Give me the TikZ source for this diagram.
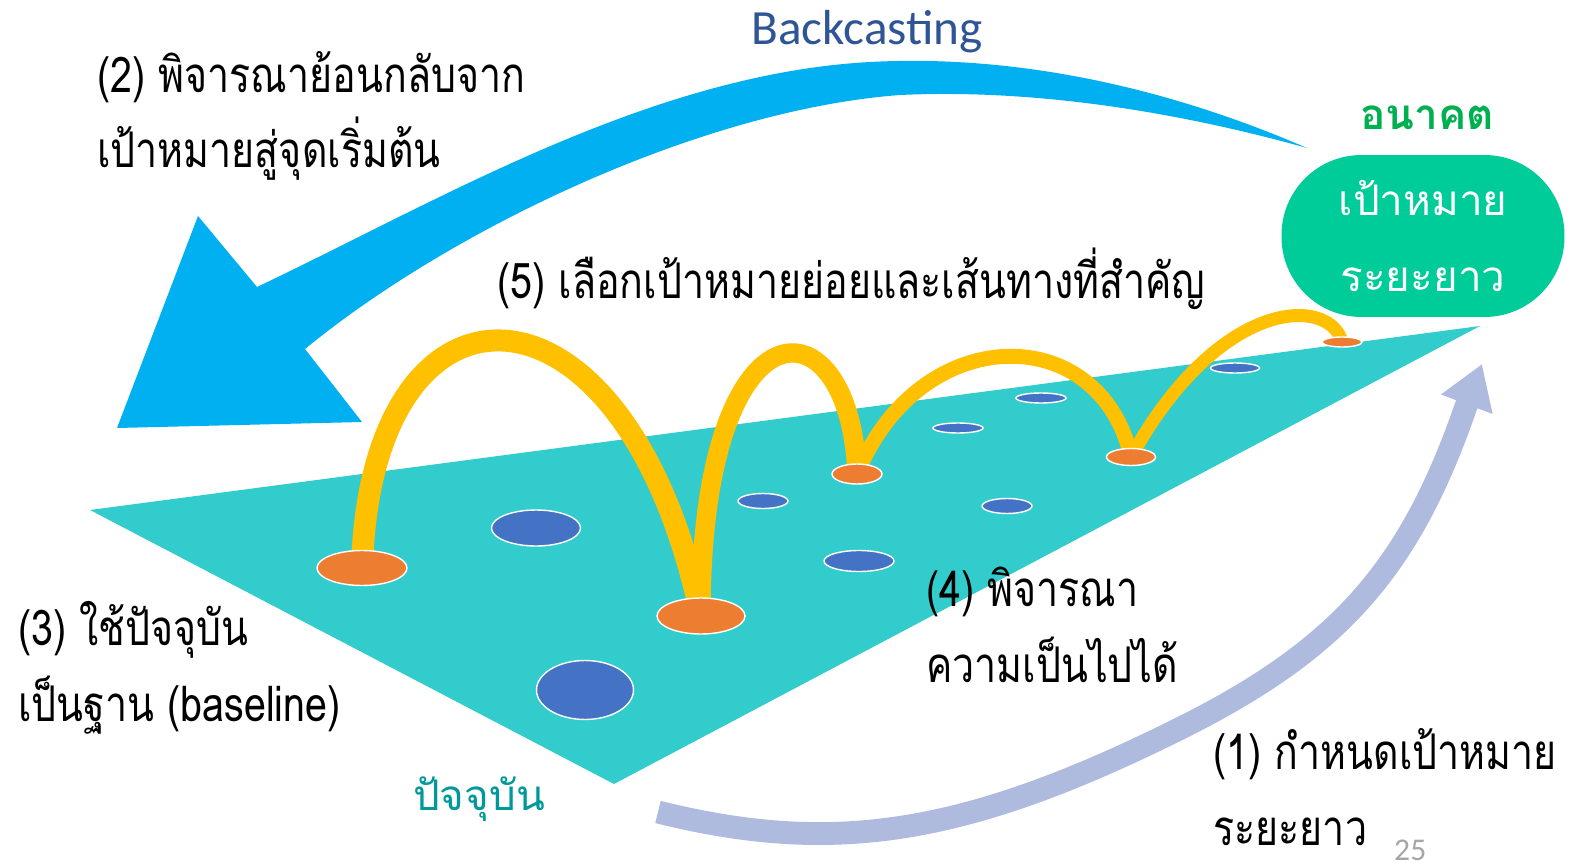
\documentclass[tikz,border=0pt]{standalone}
\usepackage{fontspec}
\setmainfont{Carlito}
\newfontfamily\thaifont[Script=Thai]{Loma}
\newfontfamily\narrowthai[Script=Thai, FakeStretch=0.8]{Loma}
\usetikzlibrary{arrows.meta,shapes.geometric}

\definecolor{plane}{HTML}{33CCCC}
\definecolor{castblue}{HTML}{00B0F0}
\definecolor{hopyellow}{HTML}{FFC000}
\definecolor{spotorange}{HTML}{ED7D31}
\definecolor{spotblue}{HTML}{4472C4}
\definecolor{goalgreen}{HTML}{00CC99}
\definecolor{futuregreen}{HTML}{00B050}
\definecolor{nowteal}{HTML}{009999}
\definecolor{lavender}{HTML}{AFBBDE}
\definecolor{titleblue}{HTML}{2F5597}
\definecolor{pagegray}{HTML}{A6A6A6}

\tikzset{
  spot/.style 2 args={ellipse, draw=white, line width=0.8pt, inner sep=0pt,
    minimum width=#1, minimum height=#2},
  orangespot/.style 2 args={spot={#1}{#2}, fill=spotorange},
  bluespot/.style 2 args={spot={#1}{#2}, fill=spotblue},
  hop/.style={draw=hopyellow, line width=#1},
  steptext/.style={font=\narrowthai\fontsize{28}{43}\selectfont, anchor=base west,
    align=left, inner sep=0pt},
}

\begin{document}
\begin{tikzpicture}[x=0.02cm, y=-0.02cm]
	\useasboundingbox (0,0) rectangle (1573,865);

	% the plane
	\fill[plane] (90,510) -- (1480,326) -- (614,784) -- cycle;

	% backcasting arrow
	\fill[castblue] (1307,148) .. controls (1150,80) and (1000,55) .. (870,62)
		.. controls (650,74) and (440,200) .. (257,287)
		-- (198,216) -- (117,428) -- (362,422) -- (305,349)
		.. controls (450,230) and (700,110) .. (900,95)
		.. controls (1050,88) and (1200,118) .. (1307,148) -- cycle;

	% hops over the plane
	\coordinate (hopA) at (362,568);
	\coordinate (hopB) at (701,616);
	\coordinate (hopC) at (857,474);
	\coordinate (hopD) at (1131,457);
	\coordinate (hopE) at (1342,342);
	\draw[hop=12.5pt] (hopA) .. controls (370,257) and (625,257) .. (hopB);
	\draw[hop=11pt] (hopB) .. controls (700,294) and (850,294) .. (hopC);
	\draw[hop=8.5pt] (hopC) .. controls (920,320) and (1100,320) .. (hopD);
	\draw[hop=7.4pt] (hopD) .. controls (1220,296) and (1330,296) .. (hopE);

	\node[orangespot={1.8cm}{0.7cm}] (spotA) at (hopA) {};
	\node[orangespot={1.76cm}{0.72cm}] (spotB) at (hopB) {};
	\node[orangespot={1cm}{0.4cm}] (spotC) at (hopC) {};
	\node[orangespot={0.98cm}{0.34cm}] (spotD) at (hopD) {};
	\node[orangespot={0.8cm}{0.2cm}] (spotE) at (hopE) {};

	\node[bluespot={1.78cm}{0.72cm}] (dotA) at (536,528) {};
	\node[bluespot={1.94cm}{1.18cm}] (dotB) at (585,690) {};
	\node[bluespot={1cm}{0.3cm}] (dotC) at (763,501) {};
	\node[bluespot={1.4cm}{0.42cm}] (dotD) at (859,561) {};
	\node[bluespot={1cm}{0.3cm}] (dotE) at (1007,506) {};
	\node[bluespot={1cm}{0.2cm}] (dotF) at (958,428) {};
	\node[bluespot={1cm}{0.2cm}] (dotG) at (1041,398) {};
	\node[bluespot={0.98cm}{0.2cm}] (dotH) at (1235,368) {};

	% long-term goal
	\node[fill=goalgreen, rounded corners=1.6cm, minimum width=5.66cm, minimum height=3.24cm,
		text=white, align=center, font=\thaifont\fontsize{24}{43}\selectfont] (goal) at (1423,236)
		{เป้าหมาย\\ระยะยาว};

	% forward arrow
	\coordinate (lavStart) at (658,812);
	\coordinate (lavTip) at (1482,364);
	\draw[lavender, line width=13pt, -{Triangle[length=0.86cm, width=1.04cm]}]
		(lavStart) .. controls (835,856) and (967,835) .. (1183,727)
		.. controls (1338,649) and (1409,570) .. (1465,409) -- (lavTip);

	% texts
	\node[text=titleblue, font=\fontsize{28}{33}\selectfont, anchor=base] (title) at (867,45) {Backcasting};
	\node[text=futuregreen, font=\thaifont\bfseries\fontsize{24}{30}\selectfont, anchor=base] (future) at (1427,130) {อนาคต};
	\node[text=nowteal, font=\thaifont\fontsize{24}{30}\selectfont, anchor=base] (present) at (479,810) {ปัจจุบัน};

	\node[steptext] (stepTwo) at (97,168) {(2) พิจารณาย้อนกลับจาก\\เป้าหมายสู่จุดเริ่มต้น};
	\node[steptext] (stepFive) at (497,298) {(5) เลือกเป้าหมายย่อยและเส้นทางที่สำคัญ};
	\node[steptext] (stepThree) at (18,721) {(3) ใช้ปัจจุบัน\\เป็นฐาน (baseline)};
	\node[steptext] (stepFour) at (926,682) {(4) พิจารณา\\ความเป็นไปได้};
	\node[steptext] (stepOne) at (1213,845) {(1) กำหนดเป้าหมาย\\ระยะยาว};
	\node[text=pagegray, font=\fontsize{18}{20}\selectfont, anchor=base west] (page) at (1388,860) {25};
\end{tikzpicture}
\end{document}
